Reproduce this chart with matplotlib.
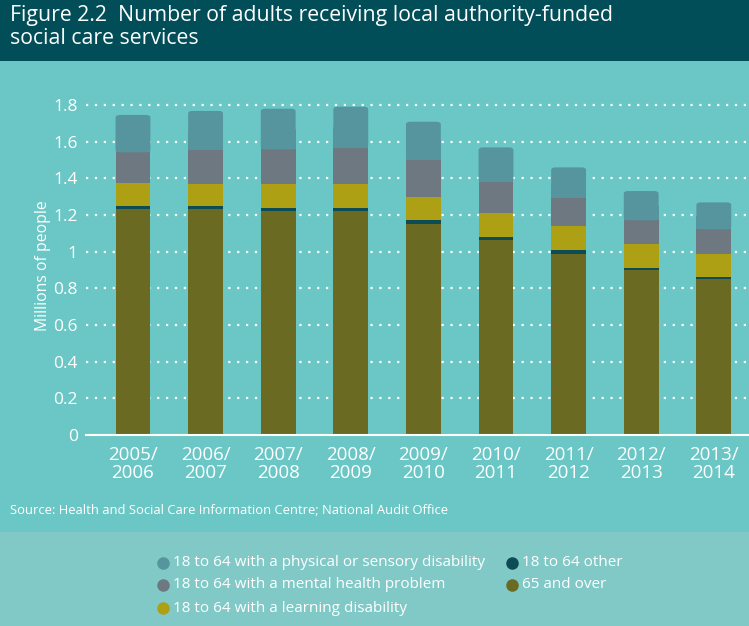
import matplotlib
matplotlib.use("Agg")
import matplotlib.pyplot as plt
from matplotlib.patches import Rectangle, FancyBboxPatch
from matplotlib.lines import Line2D
import numpy as np

years = ["2005/\n2006", "2006/\n2007", "2007/\n2008", "2008/\n2009", "2009/\n2010",
         "2010/\n2011", "2011/\n2012", "2012/\n2013", "2013/\n2014"]
over65 = [1.231, 1.231, 1.220, 1.220, 1.149, 1.062, 0.989, 0.902, 0.851]
other = [0.018, 0.018, 0.018, 0.018, 0.024, 0.018, 0.022, 0.007, 0.011]
learning = [0.124, 0.120, 0.131, 0.131, 0.127, 0.133, 0.129, 0.133, 0.127]
mental = [0.169, 0.187, 0.189, 0.198, 0.200, 0.167, 0.155, 0.129, 0.133]
physical = [0.204, 0.212, 0.222, 0.224, 0.209, 0.189, 0.165, 0.160, 0.147]

series = [
    ("65 and over", over65, "#6B6A22"),
    ("18 to 64 other", other, "#0E4C55"),
    ("18 to 64 with a learning disability", learning, "#ADA014"),
    ("18 to 64 with a mental health problem", mental, "#6E7880"),
    ("18 to 64 with a physical or sensory disability", physical, "#56959D"),
]

BG = "#6AC7C5"
TITLE_BG = "#014E58"
LEG_BG = "#80C9C7"
FONT = ["Liberation Sans Narrow", "Open Sans", "DejaVu Sans"]
plt.rcParams["font.family"] = FONT

W, H = 749, 626
fig = plt.figure(figsize=(W / 100, H / 100), dpi=100)
fig.patch.set_facecolor(BG)

# background bands
fig.add_artist(Rectangle((0, 1 - 61 / H), 1, 61 / H, transform=fig.transFigure,
                         facecolor=TITLE_BG, edgecolor="none", zorder=0))
fig.add_artist(Rectangle((0, 0), 1, 1 - 532 / H, transform=fig.transFigure,
                         facecolor=LEG_BG, edgecolor="none", zorder=0))

fig.text(10 / W, 1 - 5 / H, "Figure 2.2  Number of adults receiving local authority-funded\nsocial care services",
         color="white", fontsize=15.3, va="top", ha="left", linespacing=1.12)

# axes: x from 86 to 749 px, y zero at 435 px
ax_left, ax_right = 86 / W, 1.0
y0 = 435
ymax = 1.85
ppu = 183.3
ax_top_px = y0 - ymax * ppu
ax = fig.add_axes([ax_left, 1 - y0 / H, ax_right - ax_left, (y0 - ax_top_px) / H])
ax.set_facecolor("none")

x = np.arange(len(years))
bw = 0.48
bottom = np.zeros(len(years))
for i, (name, vals, col) in enumerate(series):
    vals = np.array(vals)
    if i < len(series) - 1:
        ax.bar(x, vals, bw, bottom=bottom, color=col, zorder=3, linewidth=0)
    else:
        # top segment with rounded top corners
        for xi, b, v in zip(x, bottom, vals):
            ax.add_patch(Rectangle((xi - bw / 2, b), bw, v * 0.5, facecolor=col,
                                   edgecolor="none", zorder=3))
            ax.add_patch(FancyBboxPatch((xi - bw / 2, b), bw, v,
                                        boxstyle="round,pad=0,rounding_size=0.06",
                                        mutation_aspect=(ymax / (8.485 + 0.647)) * (663 / 339) * 0.6,
                                        facecolor=col, edgecolor="none", zorder=3))
    bottom += vals

ax.set_xlim(-0.647, 8.485)
ax.set_ylim(0, ymax)
ax.set_yticks(np.arange(0, 1.81, 0.2))
ax.set_yticklabels(["0", "0.2", "0.4", "0.6", "0.8", "1", "1.2", "1.4", "1.6", "1.8"])
ax.set_xticks(x)
ax.set_xticklabels(years)
ax.tick_params(axis="both", length=0, colors="white")
ax.tick_params(axis="y", labelsize=12.5, pad=6)
ax.tick_params(axis="x", labelsize=13.5, pad=8)
for lab in ax.get_xticklabels():
    lab.set_linespacing(1.0)
for s in ["top", "right", "left"]:
    ax.spines[s].set_visible(False)
ax.spines["bottom"].set_color("white")
ax.spines["bottom"].set_linewidth(1.5)
ax.spines["bottom"].set_zorder(4)
for yv in np.arange(0.2, 1.81, 0.2):
    ax.axhline(yv, color="white", linestyle=(0, (1, 3)), linewidth=1.6, zorder=1)
ax.set_ylabel("Millions of people", color="white", fontsize=11.3, labelpad=1.5)

fig.text(10 / W, 1 - 511 / H, "Source: Health and Social Care Information Centre; National Audit Office",
         color="white", fontsize=9.4, va="center", ha="left")

# legend
legend_items = [
    (163, 563, series[4]), (163, 585, series[3]), (163, 608, series[2]),
    (512, 563, series[1]), (512, 585, series[0]),
]
for px, py, (name, vals, col) in legend_items:
    fig.add_artist(Line2D([px / W], [1 - py / H], marker="o", markersize=8,
                          color=col, linestyle="none", transform=fig.transFigure))
    fig.text((px + 10) / W, 1 - py / H, name, color="white", fontsize=11,
             va="center", ha="left")

fig.savefig("out.png", dpi=100, facecolor=fig.get_facecolor())
